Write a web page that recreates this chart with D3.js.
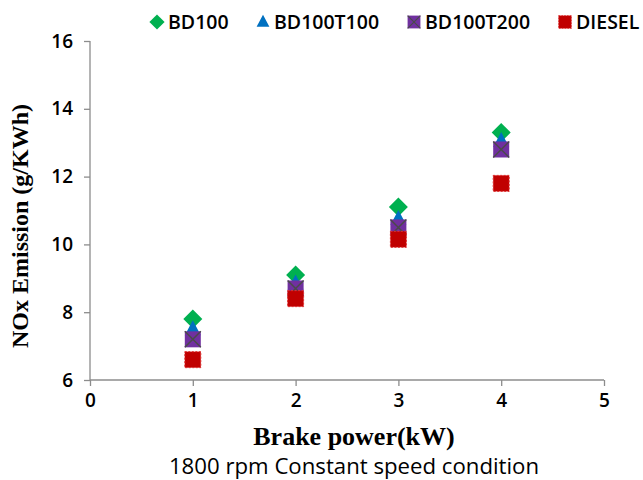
<!DOCTYPE html>
<html>
<head>
<meta charset="utf-8">
<script src="https://cdn.jsdelivr.net/npm/d3@7"></script>
<style>
  html, body { margin: 0; padding: 0; background: #fff; }
  svg { display: block; }
</style>
</head>
<body>
<svg id="chart" width="643" height="480"></svg>
<script>
// Brake power (kW) at each test point
const brakePower = [1, 2, 3, 4];

// NOx emission (g/kWh) for each fuel blend
const bd100     = [7.8, 9.1, 11.1, 13.3];
const bd100t100 = [7.5, 8.85, 10.75, 13.05];
const bd100t200 = [7.2, 8.7, 10.5, 12.8];
const diesel    = [6.6, 8.4, 10.15, 11.8];

const seriesNames = ["BD100", "BD100T100", "BD100T200", "DIESEL"];
const xTicks = [0, 1, 2, 3, 4, 5];
const yTicks = [6, 8, 10, 12, 14, 16];

const svg = d3.select("#chart");
const W = 643, H = 480;
const m = { left: 90, right: 39, top: 41, bottom: 100 };

const x = d3.scaleLinear().domain([0, 5]).range([m.left, W - m.right]);
const y = d3.scaleLinear().domain([6, 16]).range([H - m.bottom, m.top]);

const axisColor = "#8c8c8c";
const sansFont = "'Open Sans', 'DejaVu Sans', sans-serif";
const serifFont = "'Liberation Serif', 'Times New Roman', serif";

// x axis
const gx = svg.append("g")
  .attr("transform", `translate(0,${y(6)})`)
  .call(d3.axisBottom(x).tickValues(xTicks).tickFormat(d3.format("d")).tickSize(6).tickPadding(8));
// y axis
const gy = svg.append("g")
  .attr("transform", `translate(${x(0)},0)`)
  .call(d3.axisLeft(y).tickValues(yTicks).tickFormat(d3.format("d")).tickSize(6).tickPadding(11));

[gx, gy].forEach(g => {
  g.select(".domain").attr("stroke", axisColor).attr("stroke-width", 1.3);
  g.selectAll(".tick line").attr("stroke", axisColor).attr("stroke-width", 1.3);
  g.selectAll(".tick text")
    .attr("fill", "#000")
    .style("font-family", sansFont)
    .style("font-weight", "600")
    .style("font-size", "19px");
});
gy.select(".domain").attr("d", `M0,${y(16)}V${y(6)}`);
gx.select(".domain").attr("d", `M${x(0)},0H${x(5)}`);

// marker styles per series
const styles = [
  { values: bd100,     fill: "#00b050", shape: "diamond" },
  { values: bd100t100, fill: "#0070c0", shape: "triangle" },
  { values: bd100t200, fill: "#7030a0", shape: "xsquare" },
  { values: diesel,    fill: "#c00000", shape: "square" }
];

function drawMarker(g, shape, fill, cx, cy) {
  if (shape === "diamond") {
    g.append("path")
      .attr("d", `M${cx},${cy - 9.5}L${cx + 9.5},${cy}L${cx},${cy + 9.5}L${cx - 9.5},${cy}Z`)
      .attr("fill", fill);
  } else if (shape === "triangle") {
    g.append("path")
      .attr("d", `M${cx},${cy - 9}L${cx + 8},${cy + 6}L${cx - 8},${cy + 6}Z`)
      .attr("fill", fill);
  } else if (shape === "xsquare") {
    const s = 8;
    g.append("rect")
      .attr("x", cx - s).attr("y", cy - s).attr("width", 2 * s).attr("height", 2 * s)
      .attr("fill", fill);
    g.append("path")
      .attr("d", `M${cx - s},${cy - s}L${cx + s},${cy + s}M${cx + s},${cy - s}L${cx - s},${cy + s}`)
      .attr("stroke", "#4a4a4a").attr("stroke-width", 1.5);
  } else {
    const s = 8;
    g.append("rect")
      .attr("x", cx - s).attr("y", cy - s).attr("width", 2 * s).attr("height", 2 * s)
      .attr("fill", fill)
      .attr("stroke", "#e03030").attr("stroke-width", 1).attr("stroke-dasharray", "2,1.5");
  }
}

// data points
const pts = svg.append("g");
styles.forEach(st => {
  st.values.forEach((v, i) => drawMarker(pts, st.shape, st.fill, x(brakePower[i]), y(v)));
});

// legend
const legendItems = [
  { marker: 157, text: 168 },
  { marker: 263, text: 274 },
  { marker: 414, text: 425 },
  { marker: 565, text: 576 }
];
const lg = svg.append("g");
legendItems.forEach((it, i) => {
  const st = styles[i];
  const mg = lg.append("g").attr("transform", `translate(${it.marker},22) scale(0.8) translate(${-it.marker},-22)`);
  drawMarker(mg, st.shape, st.fill, it.marker, 22);
  lg.append("text")
    .attr("x", it.text).attr("y", 29)
    .attr("fill", "#000")
    .style("font-family", sansFont)
    .style("font-weight", "600")
    .style("font-size", "19.5px")
    .text(seriesNames[i]);
});

// axis titles
svg.append("text")
  .attr("transform", `translate(28,226) rotate(-90)`)
  .attr("text-anchor", "middle")
  .style("font-family", serifFont)
  .style("font-weight", "bold")
  .style("font-size", "24px")
  .text("NOx Emission (g/KWh)");

svg.append("text")
  .attr("x", 354).attr("y", 445)
  .attr("text-anchor", "middle")
  .style("font-family", serifFont)
  .style("font-weight", "bold")
  .style("font-size", "26px")
  .text("Brake power(kW)");

svg.append("text")
  .attr("x", 354).attr("y", 474)
  .attr("text-anchor", "middle")
  .style("font-family", sansFont)
  .style("font-size", "22.2px")
  .text("1800 rpm Constant speed condition");
</script>
</body>
</html>
